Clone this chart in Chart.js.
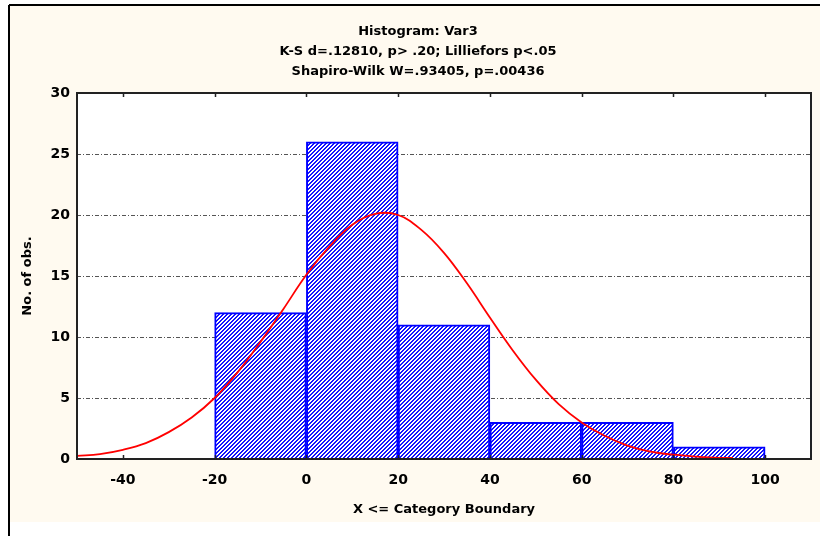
<!DOCTYPE html>
<html>
<head>
<meta charset="utf-8">
<script src="https://cdn.jsdelivr.net/npm/chart.js@4"></script>
<style>
  html, body { margin: 0; padding: 0; background: #fff; }
  #wrap { width: 820px; height: 536px; }
</style>
</head>
<body>
<div id="wrap"><canvas id="hist"></canvas></div>
<script>
// histogram bins (centre of each 20-wide class) and counts
const binCenters = [-10, 10, 30, 50, 70, 90];
const binCounts = [12, 26, 11, 3, 3, 1];

// expected normal curve
const curveX = [-50, -45, -40, -35, -30, -25, -20, -15, -10, -5, 0, 5, 10, 15, 20, 25, 30, 35, 40, 45, 50, 55, 60, 65, 70, 75, 80, 85, 90, 93];
const curveY = [0.25, 0.4, 0.75, 1.3, 2.2, 3.4, 5.0, 7.1, 9.6, 12.3, 15.1, 17.4, 19.2, 20.1, 20.0, 18.8, 16.9, 14.4, 11.6, 8.9, 6.5, 4.5, 3.0, 1.9, 1.1, 0.6, 0.35, 0.2, 0.1, 0.1];

const xTicks = [-40, -20, 0, 20, 40, 60, 80, 100];
const yTicks = [0, 5, 10, 15, 20, 25, 30];

const titleLines = [
  'Histogram: Var3',
  'K-S d=.12810, p> .20; Lilliefors p<.05',
  'Shapiro-Wilk W=.93405, p=.00436'
];
const xTitle = 'X <= Category Boundary';
const yTitle = 'No. of obs.';

const FONT = 'DejaVu Sans';

const canvas = document.getElementById('hist');
const ctx = canvas.getContext('2d');

// blue "/" hatch tile
function makeHatch() {
  const tile = document.createElement('canvas');
  tile.width = 4; tile.height = 4;
  const g = tile.getContext('2d');
  const img = g.createImageData(4, 4);
  for (let y = 0; y < 4; y++) {
    for (let x = 0; x < 4; x++) {
      const i = (y * 4 + x) * 4;
      const on = (x + y) % 4 < 2;
      img.data[i] = on ? 20 : 255;
      img.data[i + 1] = on ? 20 : 255;
      img.data[i + 2] = 255;
      img.data[i + 3] = 255;
    }
  }
  g.putImageData(img, 0, 0);
  return ctx.createPattern(tile, 'repeat');
}

const frame = {
  id: 'frame',
  beforeDraw(chart) {
    const c = chart.ctx, a = chart.chartArea;
    c.save();
    c.fillStyle = '#fff';
    c.fillRect(0, 0, chart.width, chart.height);
    c.fillStyle = '#fffaf0';
    c.fillRect(10, 6, 810, 516);
    c.strokeStyle = '#000';
    c.lineWidth = 2;
    c.beginPath();
    c.moveTo(9, 5); c.lineTo(820, 5);
    c.moveTo(9, 5); c.lineTo(9, 536);
    c.stroke();
    c.fillStyle = '#fff';
    c.fillRect(a.left, a.top, a.width, a.height);
    c.restore();
  },
  afterDatasetsDraw(chart) {
    const c = chart.ctx, a = chart.chartArea;
    c.save();
    c.strokeStyle = '#222';
    c.lineWidth = 2;
    c.strokeRect(a.left, a.top, a.width, a.height);
    c.lineWidth = 1.5;
    c.beginPath();
    xTicks.forEach(v => {
      const px = Math.round(chart.scales.x.getPixelForValue(v)) + 0.5;
      c.moveTo(px, a.bottom); c.lineTo(px, a.bottom - 4);
      c.moveTo(px, a.top); c.lineTo(px, a.top + 4);
    });
    c.stroke();
    c.restore();
  },
  afterDraw(chart) {
    const c = chart.ctx;
    c.save();
    c.fillStyle = '#000';
    c.font = 'bold 13px "' + FONT + '"';
    c.textAlign = 'center';
    c.textBaseline = 'middle';
    titleLines.forEach((t, i) => c.fillText(t, 418, 32 + i * 20));
    c.restore();
  }
};

new Chart(canvas, {
  type: 'bar',
  data: {
    datasets: [
      {
        type: 'line',
        data: curveX.map((x, i) => ({ x: x, y: curveY[i] })),
        borderColor: '#ff0000',
        borderWidth: 1.8,
        pointRadius: 0,
        tension: 0.4,
        fill: false,
        order: 0
      },
      {
        type: 'bar',
        data: binCenters.map((x, i) => ({ x: x, y: binCounts[i] })),
        backgroundColor: makeHatch(),
        borderColor: '#0000ff',
        borderWidth: 2,
        borderSkipped: 'start',
        barPercentage: 1,
        categoryPercentage: 1,
        order: 1
      }
    ]
  },
  options: {
    responsive: true,
    maintainAspectRatio: false,
    animation: false,
    devicePixelRatio: 1,
    layout: { padding: { left: 10, right: 9, top: 93, bottom: 0 } },
    plugins: {
      legend: { display: false },
      tooltip: { enabled: false },
      title: { display: false }
    },
    scales: {
      x: {
        type: 'linear',
        min: -50,
        max: 110,
        offset: false,
        afterBuildTicks: s => { s.ticks = xTicks.map(v => ({ value: v })); },
        afterFit: s => { s.height = 77; },
        grid: { display: false, drawTicks: false },
        border: { display: false },
        ticks: { padding: 13, color: '#000', font: { family: FONT, size: 14, weight: 'bold' } },
        title: {
          display: true,
          text: xTitle,
          color: '#000',
          font: { family: FONT, size: 13, weight: 'bold' },
          padding: { top: 0, bottom: 19 }
        }
      },
      y: {
        min: 0,
        max: 30,
        afterBuildTicks: s => { s.ticks = yTicks.map(v => ({ value: v })); },
        afterFit: s => { s.width = 67; },
        grid: {
          drawTicks: false,
          color: c => (c.tick && (c.tick.value === 0 || c.tick.value === 30)) ? 'rgba(0,0,0,0)' : '#555',
          lineWidth: 1
        },
        border: { display: false, dash: [4, 2, 1, 2] },
        ticks: { padding: 7, color: '#000', font: { family: FONT, size: 14, weight: 'bold' } },
        title: {
          display: true,
          text: yTitle,
          color: '#000',
          font: { family: FONT, size: 13, weight: 'bold' },
          padding: { top: 10, bottom: 0 }
        }
      }
    }
  },
  plugins: [frame]
});
</script>
</body>
</html>
